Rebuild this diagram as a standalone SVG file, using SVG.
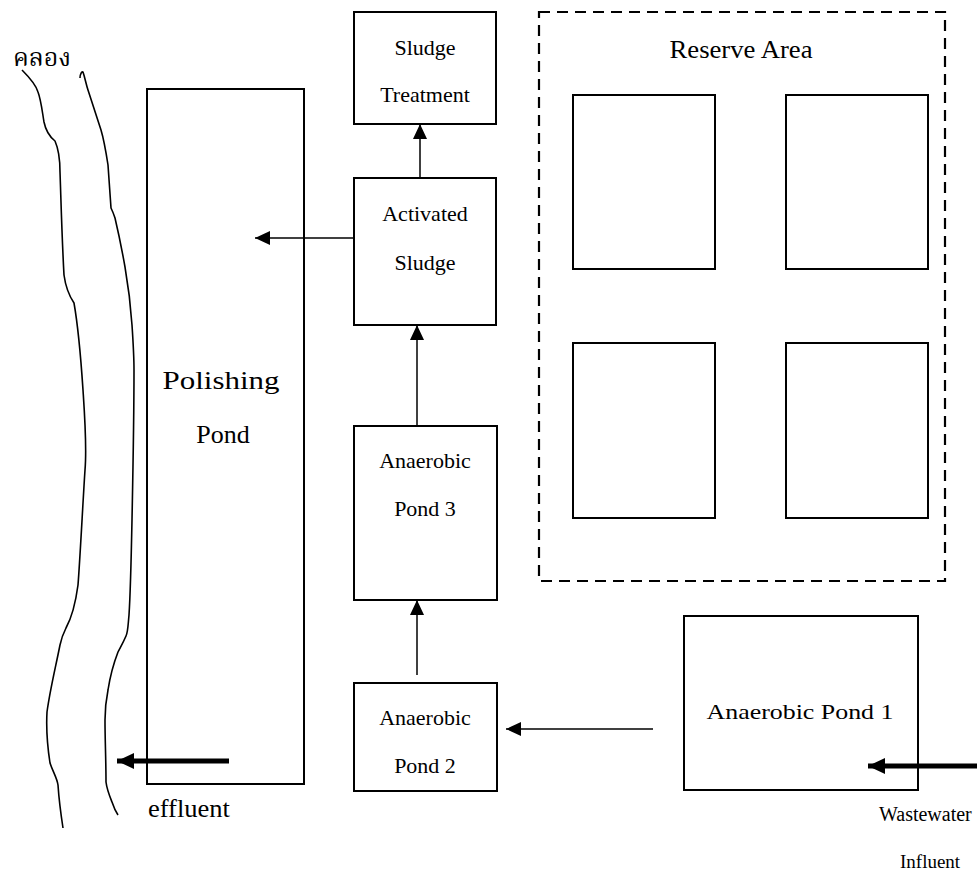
<svg xmlns="http://www.w3.org/2000/svg" width="977" height="873" viewBox="0 0 977 873">
<style>
.box{fill:#fff;stroke:#000;stroke-width:2}
text{font-family:'Liberation Serif','Times New Roman',serif}
.t{fill:#000;text-anchor:middle}
.s22{font-size:22px}
.s25{font-size:25px}
.s26{font-size:26px}
.thin{stroke:#000;stroke-width:1.5;fill:none}
.thick{stroke:#000;stroke-width:5;fill:none}
.river{stroke:#000;stroke-width:1.6;fill:none;stroke-linejoin:round}
</style>
<defs>
<marker id="ah" markerUnits="userSpaceOnUse" markerWidth="16" markerHeight="14" refX="15" refY="7" orient="auto">
<path d="M0,0 L15,7 L0,14 Z" fill="#000"/>
</marker>
<marker id="ahb" markerUnits="userSpaceOnUse" markerWidth="18" markerHeight="18" refX="17" refY="8" orient="auto">
<path d="M0,0 L17,8 L0,16 Z" fill="#000"/>
</marker>
</defs>
<rect width="977" height="873" fill="#fff"/>

<g id="river">
<path class="river" d="M22,70 C30,78 36,85 38,92 C41,100 42,110 44,122 C46,132 50,137 55,141 C59,150 60,160 60,172 C61,200 62,240 64,275 C66,290 70,297 74,303 C77,320 80,345 83,390 C85,420 87,447 85,470 C83,500 80,560 78,585 C76,600 72,617 66,628 C62,636 61,640 60,645 C55,670 50,690 47,712 C46,730 48,750 50,763 C53,772 57,778 58,785 C59,800 61,815 63,828"/>
<path class="river" d="M80,78 C80,74 82,71 83,72 C85,78 86,84 88,90 C93,105 97,118 101,130 C104,140 106,152 108,165 C109,180 110,195 111,208 C113,212 114,215 115,218 C119,235 122,250 125,267 C129,290 131,310 132,325 C133,340 134,355 134,370 C134,420 133,470 132,520 C131,570 130,600 129,615 C128,625 128,632 126,636 C123,643 120,648 118,652 C113,665 110,677 108,690 C106,700 105,710 105,720 C105,740 106,760 106,782 C107,790 110,797 112,802 C114,808 116,812 118,815"/>
<text x="42" y="66" font-size="25" text-anchor="middle" fill="#000" style="font-family:'Noto Serif Thai','Tahoma','Noto Sans Thai','DejaVu Sans',sans-serif">คลอง</text>
</g>

<g id="polishing">
<rect class="box" x="147" y="89" width="157" height="695"/>
<text class="t s26" x="221" y="389" textLength="117" lengthAdjust="spacingAndGlyphs">Polishing</text>
<text class="t s26" x="223" y="443">Pond</text>
</g>

<g id="sludge-treatment">
<rect class="box" x="354" y="12" width="142" height="112"/>
<text class="t s22" x="425" y="55">Sludge</text>
<text class="t s22" x="425" y="102">Treatment</text>
</g>

<g id="activated-sludge">
<rect class="box" x="354" y="178" width="142" height="147"/>
<text class="t s22" x="425" y="221">Activated</text>
<text class="t s22" x="425" y="270">Sludge</text>
</g>

<g id="anaerobic-pond-3">
<rect class="box" x="354" y="426" width="143" height="174"/>
<text class="t s22" x="425" y="468">Anaerobic</text>
<text class="t s22" x="425" y="516">Pond 3</text>
</g>

<g id="anaerobic-pond-2">
<rect class="box" x="354" y="683" width="143" height="108"/>
<text class="t s22" x="425" y="725">Anaerobic</text>
<text class="t s22" x="425" y="773">Pond 2</text>
</g>

<g id="anaerobic-pond-1">
<rect class="box" x="684" y="616" width="234" height="174"/>
<text class="t s22" x="800" y="719" textLength="187" lengthAdjust="spacingAndGlyphs">Anaerobic Pond 1</text>
</g>

<g id="reserve-area">
<rect x="539" y="12" width="406" height="569" fill="none" stroke="#000" stroke-width="2.2" stroke-dasharray="11,7"/>
<text class="t s25" x="741" y="58" textLength="143" lengthAdjust="spacingAndGlyphs">Reserve Area</text>
<rect class="box" x="573" y="95" width="142" height="174"/>
<rect class="box" x="786" y="95" width="142" height="174"/>
<rect class="box" x="573" y="343" width="142" height="175"/>
<rect class="box" x="786" y="343" width="142" height="175"/>
</g>

<g id="labels">
<text class="t s25" x="148" y="817" style="text-anchor:start" textLength="82" lengthAdjust="spacingAndGlyphs">effluent</text>
<text class="t" x="879" y="821" style="text-anchor:start;font-size:20px">Wastewater</text>
<text class="t" x="900" y="868" style="text-anchor:start;font-size:19px">Influent</text>
</g>

<g id="connectors">
<line class="thin" x1="420" y1="178" x2="420" y2="124" marker-end="url(#ah)"/>
<line class="thin" x1="354" y1="238" x2="255" y2="238" marker-end="url(#ah)"/>
<line class="thin" x1="417" y1="426" x2="417" y2="325" marker-end="url(#ah)"/>
<line class="thin" x1="417" y1="675" x2="417" y2="600" marker-end="url(#ah)"/>
<line class="thin" x1="653" y1="729" x2="506" y2="729" marker-end="url(#ah)"/>
<line class="thick" x1="977" y1="766" x2="868" y2="766" marker-end="url(#ahb)"/>
<line class="thick" x1="229" y1="761" x2="117" y2="761" marker-end="url(#ahb)"/>
</g>
</svg>
